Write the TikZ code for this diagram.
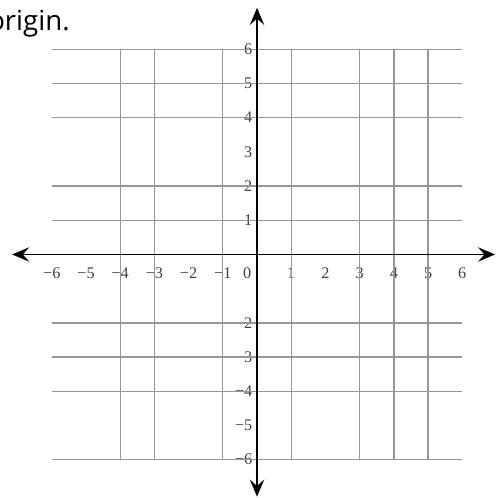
\documentclass[tikz,border=0pt]{standalone}
\usepackage{fontspec}
\setmainfont{Liberation Serif}
\newfontfamily\headfont{Open Sans}
\usepackage{tikz}
\usetikzlibrary{arrows.meta}

\definecolor{gridgray}{RGB}{150,150,150}
\tikzset{
  gridline/.style={draw=gridgray, line width=1.1pt},
  axisline/.style={line width=1.3pt, {Stealth[length=5mm, width=4.2mm, inset=1.9mm]}-{Stealth[length=5mm, width=4.2mm, inset=1.9mm]}},
  ticklabel/.style={font=\fontsize{13.5}{15}\selectfont, text=black!75, inner sep=0pt}
}

\begin{document}
\begin{tikzpicture}[x=1cm, y=1cm]
  \useasboundingbox (-7.515,-7.12) rectangle (7.018,7.44);
  \clip (-7.515,-7.12) rectangle (7.018,7.44);
  \node[anchor=base east, font=\headfont\fontsize{23}{27}\selectfont, inner sep=0pt] (caption) at (-5.47,6.56) {origin.};
  % x labels
  \node[ticklabel] (xm6) at (-6,-0.55) {−6};
  \node[ticklabel] (xm5) at (-5,-0.55) {−5};
  \node[ticklabel] (xm4) at (-4,-0.55) {−4};
  \node[ticklabel] (xm3) at (-3,-0.55) {−3};
  \node[ticklabel] (xm2) at (-2,-0.55) {−2};
  \node[ticklabel] (xm1) at (-1,-0.55) {−1};
  \node[ticklabel] (xz) at (-0.29,-0.55) {0};
  \node[ticklabel] (xp1) at (1,-0.55) {1};
  \node[ticklabel] (xp2) at (2,-0.55) {2};
  \node[ticklabel] (xp3) at (3,-0.55) {3};
  \node[ticklabel] (xp4) at (4,-0.55) {4};
  \node[ticklabel] (xp5) at (5,-0.55) {5};
  \node[ticklabel] (xp6) at (6,-0.55) {6};
  % y labels
  \node[ticklabel, anchor=east] (yp6) at (-0.13,6) {6};
  \node[ticklabel, anchor=east] (yp5) at (-0.13,5) {5};
  \node[ticklabel, anchor=east] (yp4) at (-0.13,4) {4};
  \node[ticklabel, anchor=east] (yp3) at (-0.13,3) {3};
  \node[ticklabel, anchor=east] (yp2) at (-0.13,2) {2};
  \node[ticklabel, anchor=east] (yp1) at (-0.13,1) {1};
  \node[ticklabel, anchor=east] (ym2) at (-0.13,-2) {−2};
  \node[ticklabel, anchor=east] (ym3) at (-0.13,-3) {−3};
  \node[ticklabel, anchor=east] (ym4) at (-0.13,-4) {−4};
  \node[ticklabel, anchor=east] (ym5) at (-0.13,-5) {−5};
  \node[ticklabel, anchor=east] (ym6) at (-0.13,-6) {−6};
  % grid
  \draw[gridline] (-4,-6) -- (-4,6);
  \draw[gridline] (-3,-6) -- (-3,6);
  \draw[gridline] (-1,-6) -- (-1,6);
  \draw[gridline] (1,-6) -- (1,6);
  \draw[gridline] (3,-6) -- (3,6);
  \draw[gridline] (4,-6) -- (4,6);
  \draw[gridline] (5,-6) -- (5,6);
  \draw[gridline] (-6,6) -- (6,6);
  \draw[gridline] (-6,5) -- (6,5);
  \draw[gridline] (-6,4) -- (6,4);
  \draw[gridline] (-6,2) -- (6,2);
  \draw[gridline] (-6,1) -- (6,1);
  \draw[gridline] (-6,-2) -- (6,-2);
  \draw[gridline] (-6,-3) -- (6,-3);
  \draw[gridline] (-6,-4) -- (6,-4);
  \draw[gridline] (-6,-6) -- (6,-6);
  % axes
  \draw[axisline] (-7.16,0) -- (6.96,0);
  \draw[axisline] (0,-7.08) -- (0,7.21);
\end{tikzpicture}
\end{document}
